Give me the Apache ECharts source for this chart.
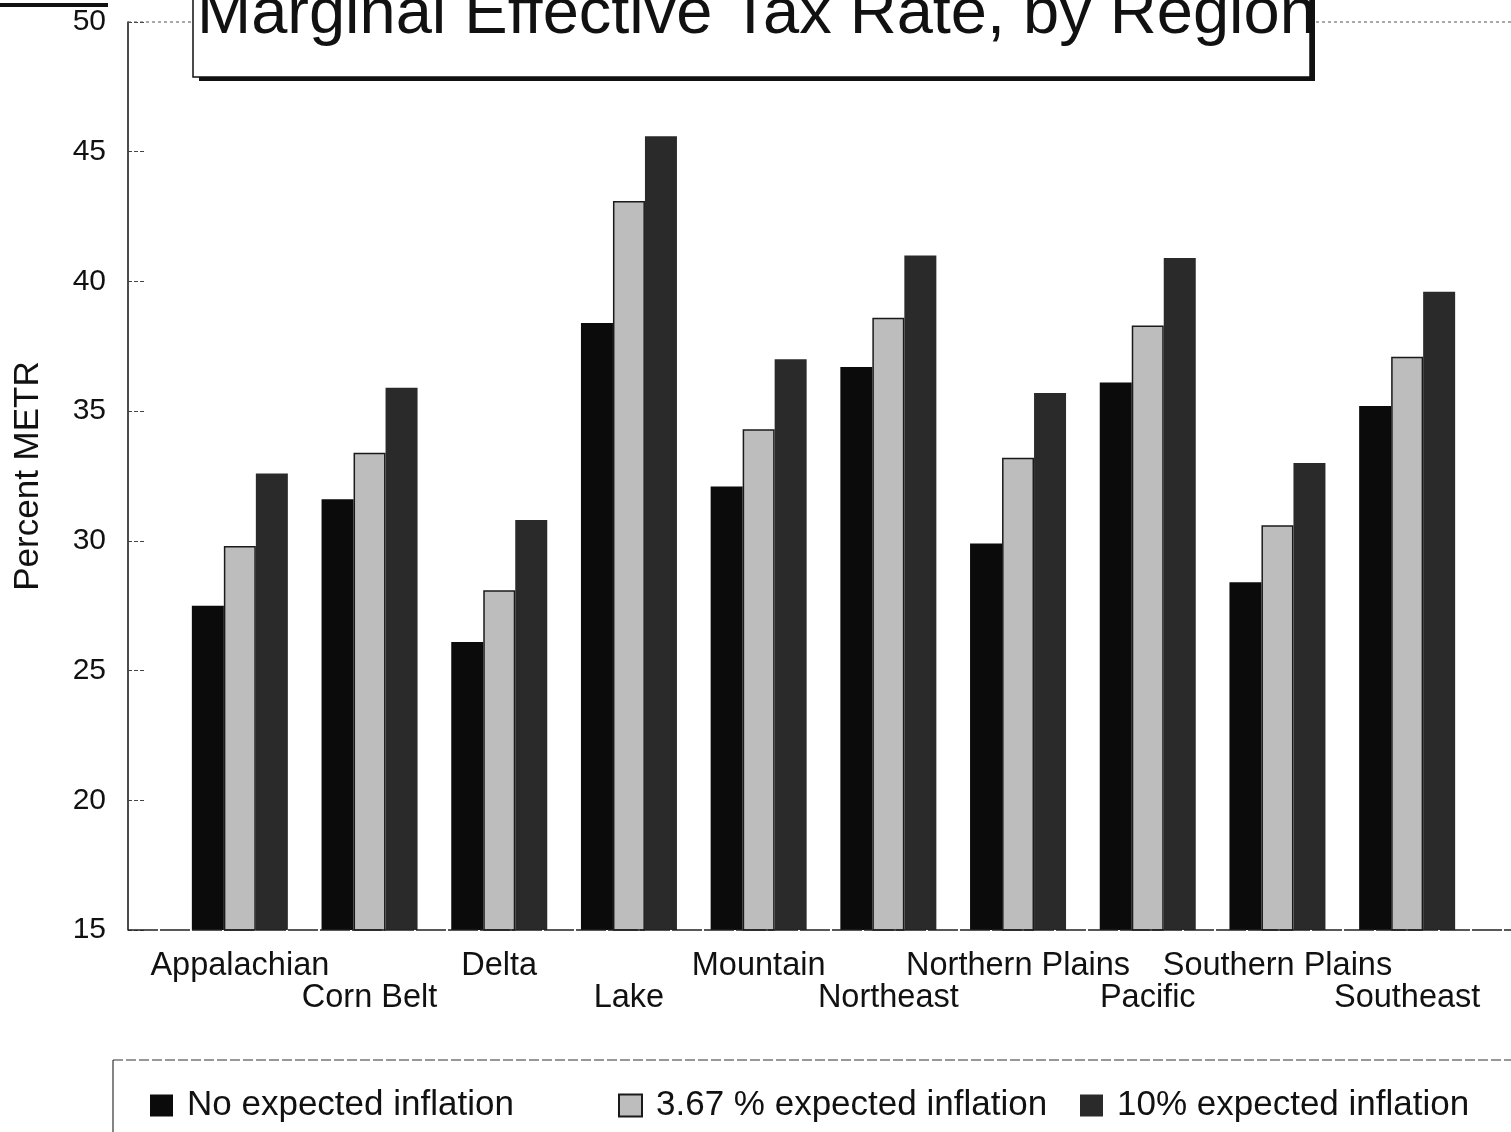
<!DOCTYPE html>
<html>
<head>
<meta charset="utf-8">
<script src="https://cdn.jsdelivr.net/npm/echarts@6/dist/echarts.min.js"></script>
<style>
  html, body { margin: 0; padding: 0; background: #fff; }
  #chart { width: 1511px; height: 1132px; }
</style>
</head>
<body>
<div id="chart"></div>
<script>
// regions along the x axis
var regions = ['Appalachian', 'Corn Belt', 'Delta', 'Lake', 'Mountain',
  'Northeast', 'Northern Plains', 'Pacific', 'Southern Plains', 'Southeast'];

// percent METR
var noInflation   = [27.5, 31.6, 26.1, 38.4, 32.1, 36.7, 29.9, 36.1, 28.4, 35.2];
var midInflation  = [29.8, 33.4, 28.1, 43.1, 34.3, 38.6, 33.2, 38.3, 30.6, 37.1];
var highInflation = [32.6, 35.9, 30.8, 45.6, 37.0, 41.0, 35.7, 40.9, 33.0, 39.6];

var seriesNames = ['No expected inflation', '3.67 % expected inflation', '10% expected inflation'];

var FONT = '"Liberation Sans", Arial, sans-serif';

var chart = echarts.init(document.getElementById('chart'));

var option = {
  backgroundColor: '#fff',
  animation: false,
  textStyle: { fontFamily: FONT, color: '#111' },
  grid: { left: 175, right: 39, top: 22, bottom: 202 },
  legend: [
    { data: [seriesNames[0]], left: 150, top: 1088 },
    { data: [seriesNames[1]], left: 618, top: 1088 },
    { data: [seriesNames[2]], left: 1080, top: 1088 }
  ].map(function (l) {
    l.itemWidth = 23;
    l.itemHeight = 22;
    l.padding = 0;
    l.icon = 'rect';
    l.selectedMode = false;
    l.textStyle = { fontSize: 35, fontFamily: FONT, color: '#111', padding: [0, 0, 0, 9] };
    return l;
  }),
  xAxis: {
    type: 'category',
    data: regions,
    axisLine: { show: false },
    axisTick: { show: false },
    axisLabel: {
      interval: 0,
      fontSize: 32.5,
      lineHeight: 32,
      color: '#111',
      margin: 20,
      formatter: function (v, i) {
        return i % 2 === 1 ? '\n' + v : v;  // stagger every other label
      }
    }
  },
  yAxis: {
    type: 'value',
    min: 15,
    max: 50,
    interval: 5,
    offset: 47,
    name: 'Percent METR',
    nameLocation: 'middle',
    nameGap: 82,
    nameTextStyle: { fontSize: 35, color: '#111' },
    axisLine: { show: true, lineStyle: { color: '#111', width: 1.5 } },
    axisTick: { show: true, inside: true, length: 18, lineStyle: { color: '#444', type: 'dashed', width: 1 } },
    axisLabel: { fontSize: 30, color: '#111', margin: 22 },
    splitLine: { show: false }
  },
  series: [
    {
      name: seriesNames[0], type: 'bar', data: noInflation,
      barWidth: 32, barGap: '0%',
      itemStyle: { color: '#0b0b0b' }
    },
    {
      name: seriesNames[1], type: 'bar', data: midInflation,
      barWidth: 32, barGap: '0%',
      itemStyle: { color: '#bdbdbd', borderColor: '#1a1a1a', borderWidth: 1.5 }
    },
    {
      name: seriesNames[2], type: 'bar', data: highInflation,
      barWidth: 32, barGap: '0%',
      itemStyle: { color: '#2a2a2a' }
    }
  ],
  graphic: [
    // top dotted border and bottom axis line
    { type: 'line', shape: { x1: 128, y1: 22, x2: 1511, y2: 22 }, style: { stroke: '#555', lineWidth: 1, lineDash: [3, 3] }, z: 1 },
    { type: 'line', shape: { x1: 128, y1: 930, x2: 1511, y2: 930 }, style: { stroke: '#222', lineWidth: 1.5, lineDash: [30, 2] }, z: 10 },
    // scan artefact top-left
    { type: 'line', shape: { x1: 0, y1: 5, x2: 108, y2: 5 }, style: { stroke: '#111', lineWidth: 4 } },
    // title box with drop shadow
    { type: 'rect', shape: { x: 199, y: -5, width: 1116, height: 86 }, style: { fill: '#111' }, z: 20 },
    { type: 'rect', shape: { x: 193, y: -8, width: 1117, height: 85 }, style: { fill: '#fff', stroke: '#111', lineWidth: 1.5 }, z: 21 },
    {
      type: 'text', left: 197, top: -17, z: 22,
      style: { text: 'Marginal Effective Tax Rate, by Region', font: '65px ' + FONT, fill: '#111' }
    },
    // legend frame
    { type: 'line', shape: { x1: 113, y1: 1060, x2: 1511, y2: 1060 }, style: { stroke: '#333', lineWidth: 1.2, lineDash: [10, 3] } },
    { type: 'line', shape: { x1: 113, y1: 1060, x2: 113, y2: 1132 }, style: { stroke: '#333', lineWidth: 1.2 } }
  ]
};

chart.setOption(option);
</script>
</body>
</html>
